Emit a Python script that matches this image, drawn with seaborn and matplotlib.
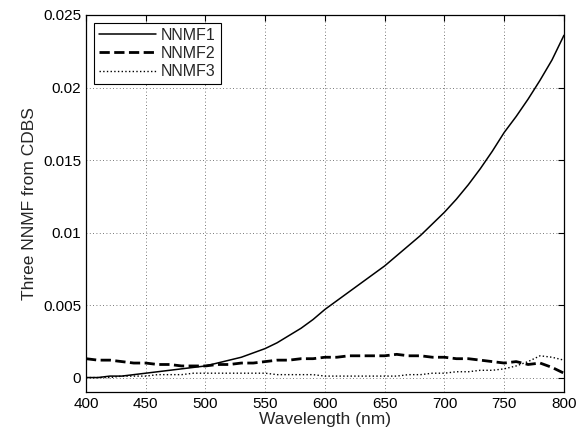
import numpy as np
import pandas as pd
import matplotlib
matplotlib.use("Agg")
import matplotlib.pyplot as plt
import seaborn as sns

# wavelength grid (nm), values every 10 nm
wavelength = list(range(400, 801, 10))

nnmf1 = [0.0000, 0.0000, 0.0001, 0.0001, 0.0002, 0.0003, 0.0004, 0.0005, 0.0006, 0.0007,
         0.0008, 0.0010, 0.0012, 0.0014, 0.0017, 0.0020, 0.0024, 0.0029, 0.0034, 0.0040,
         0.0047, 0.0053, 0.0059, 0.0065, 0.0071, 0.0077, 0.0084, 0.0091, 0.0098, 0.0106,
         0.0114, 0.0123, 0.0133, 0.0144, 0.0156, 0.0169, 0.0180, 0.0192, 0.0205, 0.0219,
         0.0236]

nnmf2 = [0.0013, 0.0012, 0.0012, 0.0011, 0.0010, 0.0010, 0.0009, 0.0009, 0.0008, 0.0008,
         0.0008, 0.0009, 0.0009, 0.0010, 0.0010, 0.0011, 0.0012, 0.0012, 0.0013, 0.0013,
         0.0014, 0.0014, 0.0015, 0.0015, 0.0015, 0.0015, 0.0016, 0.0015, 0.0015, 0.0014,
         0.0014, 0.0013, 0.0013, 0.0012, 0.0011, 0.0010, 0.0011, 0.0009, 0.0010, 0.0007,
         0.0003]

nnmf3 = [0.0000, 0.0000, 0.0000, 0.0001, 0.0001, 0.0001, 0.0002, 0.0002, 0.0002, 0.0003,
         0.0003, 0.0003, 0.0003, 0.0003, 0.0003, 0.0003, 0.0002, 0.0002, 0.0002, 0.0002,
         0.0001, 0.0001, 0.0001, 0.0001, 0.0001, 0.0001, 0.0001, 0.0002, 0.0002, 0.0003,
         0.0003, 0.0004, 0.0004, 0.0005, 0.0005, 0.0006, 0.0008, 0.0011, 0.0015, 0.0014,
         0.0012]

series_names = ["NNMF1", "NNMF2", "NNMF3"]
x_ticks = [400, 450, 500, 550, 600, 650, 700, 750, 800]
y_ticks = [0, 0.005, 0.01, 0.015, 0.02, 0.025]
y_tick_labels = ["0", "0.005", "0.01", "0.015", "0.02", "0.025"]

df = pd.DataFrame({
    "wavelength": wavelength * 3,
    "value": nnmf1 + nnmf2 + nnmf3,
    "series": sum([[n] * len(wavelength) for n in series_names], []),
})

sns.set_style("white")
plt.rcParams["font.family"] = ["Liberation Sans", "DejaVu Sans"]

fig = plt.figure(figsize=(5.79, 4.41), dpi=100)
ax = fig.add_axes([0.1485, 0.111, 0.8255, 0.855])

styles = {"NNMF1": ("-", 1.1), "NNMF2": ("--", 2.0), "NNMF3": (":", 1.0)}
for name in series_names:
    ls, lw = styles[name]
    sns.lineplot(data=df[df["series"] == name], x="wavelength", y="value",
                 ax=ax, color="black", linestyle=ls, linewidth=lw, label=name)

ax.set_xlim(400, 800)
ax.set_ylim(-0.001, 0.025)
ax.set_xticks(x_ticks)
ax.set_yticks(y_ticks)
ax.set_yticklabels(y_tick_labels)
ax.grid(True, linestyle=(0, (1, 3)), color="black", linewidth=0.6, alpha=0.7)
ax.tick_params(direction="in", top=True, right=True, length=4, width=0.8,
               labelsize=11, colors="black")
for s in ax.spines.values():
    s.set_color("black")
    s.set_linewidth(0.9)

ax.set_xlabel("Wavelength (nm)", fontsize=12.5, labelpad=1)
ax.set_ylabel("Three NNMF from CDBS", fontsize=12.5, labelpad=4)

leg = ax.legend(loc="upper left", fontsize=11.5, handlelength=3.6, handletextpad=0.3,
                borderaxespad=0.5, labelspacing=0.2, fancybox=False,
                edgecolor="black", framealpha=1, borderpad=0.3)
leg.get_frame().set_linewidth(0.8)

plt.savefig("out.png", dpi=100)
